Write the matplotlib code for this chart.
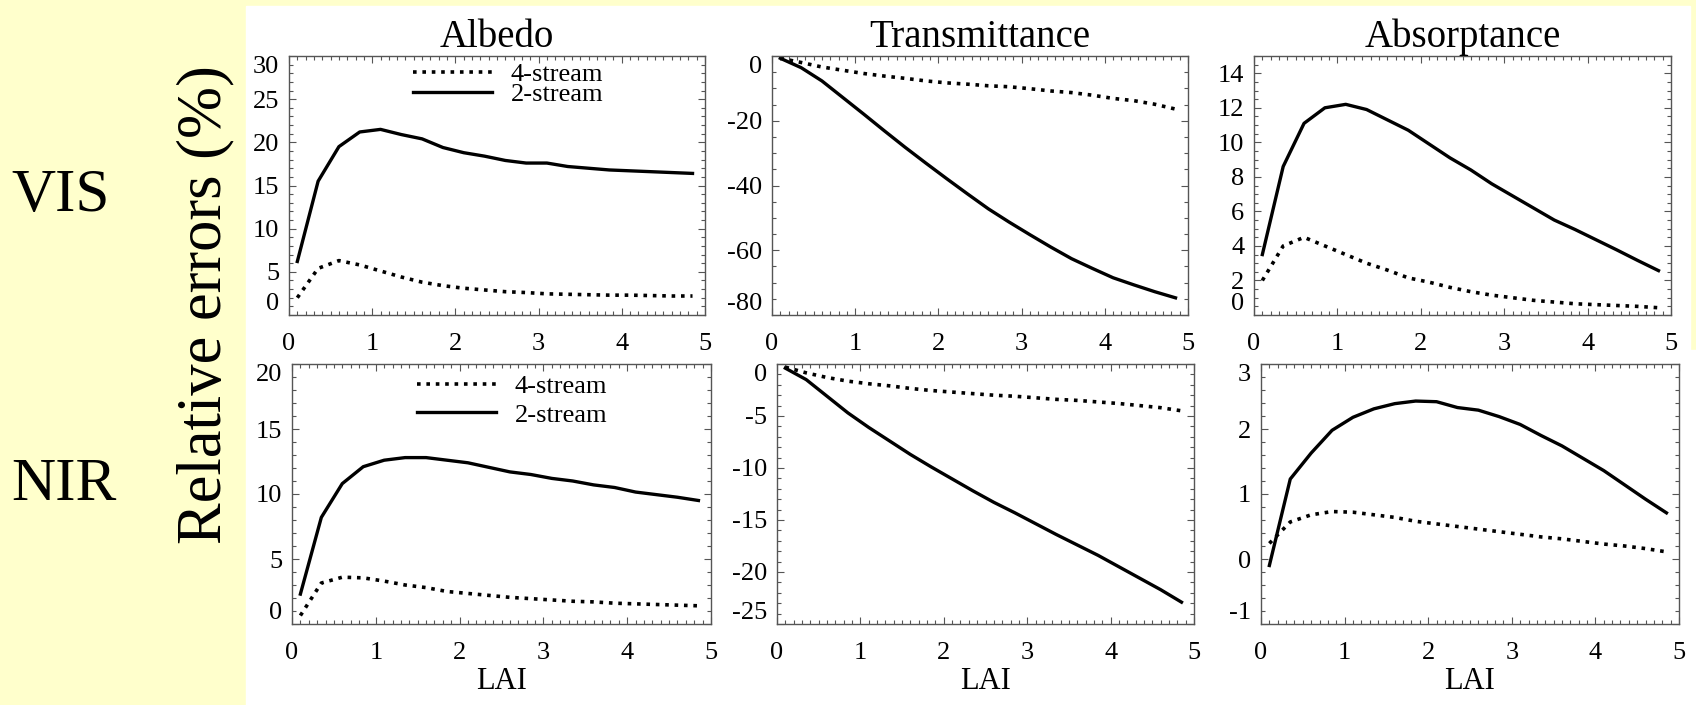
import matplotlib
matplotlib.use("Agg")
import matplotlib.pyplot as plt
from matplotlib.patches import Rectangle
from matplotlib.ticker import MultipleLocator

plt.rcParams['font.family'] = ['Liberation Serif', 'DejaVu Serif']
plt.rcParams['axes.unicode_minus'] = False

# Data
lai = [0.10, 0.35, 0.60, 0.85, 1.10, 1.35, 1.60, 1.85, 2.10, 2.35,
       2.60, 2.85, 3.10, 3.35, 3.60, 3.85, 4.10, 4.35, 4.60, 4.85]

vis_alb_2s = [6.2, 15.5, 19.5, 21.2, 21.5, 20.9, 20.4, 19.4, 18.8, 18.4,
              17.9, 17.6, 17.6, 17.2, 17.0, 16.8, 16.7, 16.6, 16.5, 16.4]
vis_alb_4s = [2.0, 5.4, 6.3, 5.8, 5.1, 4.4, 3.8, 3.4, 3.1, 2.9,
              2.7, 2.6, 2.45, 2.4, 2.35, 2.3, 2.3, 2.25, 2.2, 2.2]
vis_tra_2s = [-0.7, -3.6, -7.7, -12.8, -17.9, -23.1, -28.2, -33.1, -37.9, -42.6,
              -47.2, -51.3, -55.2, -59.0, -62.6, -65.6, -68.5, -70.7, -72.8, -74.7]
vis_tra_4s = [-0.7, -2.0, -3.4, -4.4, -5.4, -6.2, -6.9, -7.7, -8.3, -8.7,
              -9.2, -9.5, -10.1, -10.8, -11.3, -12.1, -13.1, -13.8, -14.9, -16.4]
vis_abs_2s = [3.5, 8.6, 11.1, 12.0, 12.2, 11.9, 11.3, 10.7, 9.9, 9.1,
              8.4, 7.6, 6.9, 6.2, 5.5, 4.95, 4.36, 3.77, 3.16, 2.57]
vis_abs_4s = [2.0, 4.0, 4.5, 4.0, 3.5, 3.0, 2.6, 2.15, 1.9, 1.6,
              1.35, 1.15, 1.0, 0.85, 0.75, 0.65, 0.6, 0.55, 0.5, 0.42]

nir_alb_2s = [2.3, 8.2, 10.8, 12.1, 12.6, 12.8, 12.8, 12.6, 12.4, 12.05,
              11.7, 11.5, 11.2, 11.0, 10.7, 10.5, 10.15, 9.95, 9.75, 9.5]
nir_alb_4s = [0.65, 3.15, 3.6, 3.55, 3.3, 3.0, 2.8, 2.5, 2.35, 2.2,
              2.05, 1.95, 1.85, 1.75, 1.7, 1.6, 1.55, 1.5, 1.45, 1.4]
nir_tra_2s = [-0.4, -1.5, -3.1, -4.7, -6.1, -7.4, -8.7, -9.9, -11.05, -12.2,
              -13.3, -14.3, -15.35, -16.4, -17.4, -18.4, -19.5, -20.6, -21.7, -22.9]
nir_tra_4s = [-0.3, -0.85, -1.3, -1.65, -1.9, -2.1, -2.35, -2.55, -2.7, -2.85,
              -3.0, -3.1, -3.25, -3.4, -3.5, -3.65, -3.8, -4.0, -4.2, -4.5]
nir_abs_2s = [-0.1, 1.23, 1.63, 1.98, 2.18, 2.31, 2.39, 2.43, 2.42, 2.33,
              2.29, 2.19, 2.07, 1.9, 1.74, 1.55, 1.36, 1.14, 0.92, 0.71]
nir_abs_4s = [0.24, 0.57, 0.68, 0.73, 0.72, 0.68, 0.64, 0.58, 0.54, 0.5,
              0.46, 0.42, 0.38, 0.34, 0.31, 0.27, 0.23, 0.2, 0.16, 0.11]

titles = ["Albedo", "Transmittance", "Absorptance"]
xticks = [0, 1, 2, 3, 4, 5]

W, H = 1696, 705
YELLOW = '#ffffcc'
FRAME = '#555555'

fig = plt.figure(figsize=(W / 100, H / 100), dpi=100, facecolor=YELLOW)

# white paper area (behind the axes)
fig.patches.append(Rectangle((246 / W, 0), (1690 - 246) / W, 1 - 6 / H,
                             transform=fig.transFigure, color='white', zorder=-10))
fig.patches.append(Rectangle((1690 / W, 0), 6 / W, 1 - 350 / H,
                             transform=fig.transFigure, color='white', zorder=-10))

# panel boxes in pixels: left, right, top, bottom
boxes = [
    [(289, 705, 56, 315), (772, 1188, 56, 315), (1254, 1671, 56, 315)],
    [(292, 711, 364, 624), (777, 1194, 364, 624), (1261, 1679, 364, 624)],
]

panels = [
    [(vis_alb_2s, vis_alb_4s, (0, 30), list(range(0, 31, 5)), 1),
     (vis_tra_2s, vis_tra_4s, (-80, 0), list(range(-80, 1, 20)), 5),
     (vis_abs_2s, vis_abs_4s, (0, 15), list(range(0, 15, 2)), 0.5)],
    [(nir_alb_2s, nir_alb_4s, (0, 20), list(range(0, 21, 5)), 1),
     (nir_tra_2s, nir_tra_4s, (-25, 0), list(range(-25, 1, 5)), 1),
     (nir_abs_2s, nir_abs_4s, (-1, 3), [-1, 0, 1, 2, 3], 0.2)],
]

for r in range(2):
    for c in range(3):
        l, rt, t, b = boxes[r][c]
        ax = fig.add_axes([l / W, 1 - b / H, (rt - l) / W, (b - t) / H])
        sol, dot, ylim, yt, ymin = panels[r][c]
        ax.plot(lai, dot, color='black', lw=2.6, linestyle=(0, (1, 1.6)), label='4-stream')
        ax.plot(lai, sol, color='black', lw=2.4, label='2-stream')
        ax.set_xlim(0, 5)
        ax.set_ylim(*ylim)
        ax.set_xticks(xticks)
        ax.set_yticks(yt)
        ax.xaxis.set_minor_locator(MultipleLocator(0.1))
        ax.yaxis.set_minor_locator(MultipleLocator(ymin))
        ax.tick_params(which='both', direction='in', top=True, right=True,
                       color=FRAME, width=0.8)
        ax.tick_params(which='major', length=5, labelsize=19)
        ax.tick_params(which='minor', length=3)
        ax.tick_params(axis='x', pad=13)
        ax.tick_params(axis='y', pad=7)
        for s in ax.spines.values():
            s.set_color(FRAME)
            s.set_linewidth(1.0)
        # end labels sit inside the frame, as in the original
        for lab, v in zip(ax.get_yticklabels(), yt):
            if v == ylim[0]:
                lab.set_verticalalignment('bottom')
            elif v == ylim[1]:
                lab.set_verticalalignment('top')
        if r == 0:
            ax.set_title(titles[c], fontsize=28, pad=4)
        else:
            ax.set_xlabel("LAI", fontsize=22, labelpad=2)
        if c == 0:
            sp = -0.12 if r == 0 else 0.2
            top = 0.975 if r == 0 else 0.96
            ax.legend(loc='upper left', bbox_to_anchor=(0.298, top), frameon=False,
                      fontsize=19, handlelength=3.0, handletextpad=0.7,
                      labelspacing=sp, borderpad=0, borderaxespad=0)

fig.text(61 / W, 1 - 211 / H, "VIS", fontsize=44, ha='center', va='baseline')
fig.text(64 / W, 1 - 500 / H, "NIR", fontsize=44, ha='center', va='baseline')
fig.text(205 / W, 1 - 305 / H, "Relative errors (%)", fontsize=45,
         rotation=90, ha='center', va='center')

fig.savefig("out.png", dpi=100, facecolor=YELLOW)
